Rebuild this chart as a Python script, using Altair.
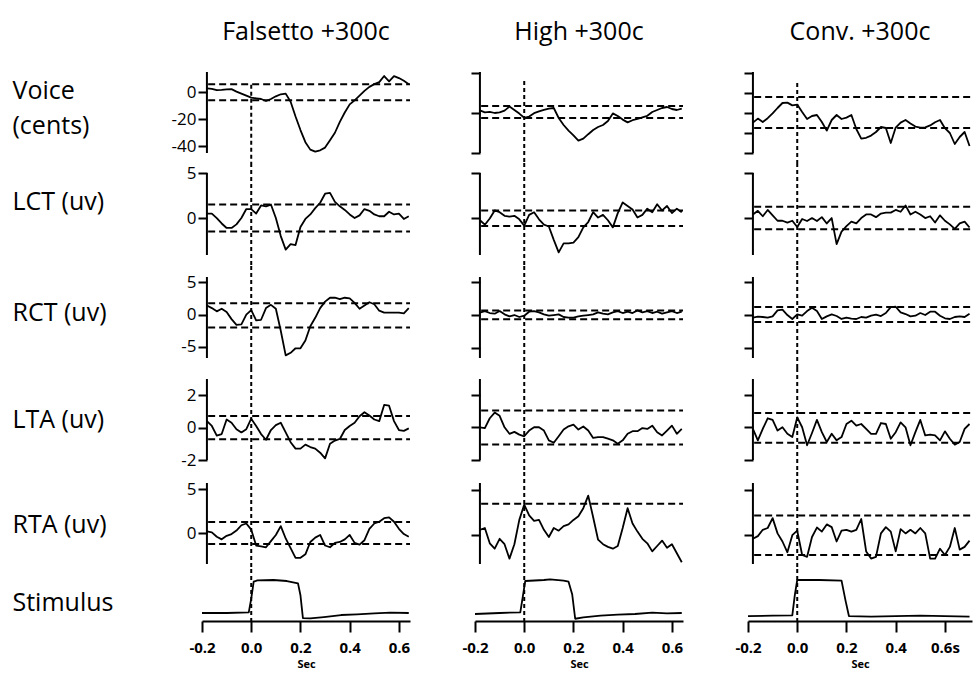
import altair as alt
import pandas as pd

# ---------------- data ----------------
T_A = [round(-0.18 + 0.02 * i, 2) for i in range(42)]   # Falsetto / High
T_C = [round(-0.18 + 0.02 * i, 2) for i in range(45)]   # Conv.

fal_voice = [2.8, 2.5, 1.5, 1.8, 2.2, 2.3, 0.5, -1, -2.5, -4, -4.5, -5, -6.5, -5, -3, -1.5, -1, -7, -18, -28,
             -37, -42.5, -44, -43, -41, -35.5, -30, -22, -15, -9, -6, -2.5, 1, 4, 6, 7.5, 12, 8, 12, 10.5, 8.5, 6]
fal_lct = [0.5, 0.5, 0.0, -0.6, -1.1, -1.1, -0.7, 0.0, 1.0, 1.0, 0.5, 1.4, 1.3, 1.5, 0.0, -2.0, -3.5, -2.9, -3.0, -1.0,
           -0.1, 0.4, 1.1, 1.7, 2.7, 2.8, 1.8, 1.3, 0.9, 0.4, 0.0, 0.3, 1.0, 0.8, 0.4, 0.2, 0.2, 0.7, 0.4, 0.5, -0.1, 0.2]
fal_rct = [1.4, 1.0, 0.5, 0.9, 0.4, -0.7, -1.6, -1.5, 0.0, 0.7, -0.9, -0.8, 1.0, 1.5, 0.9, -2.5, -6.3, -5.9, -5.2, -5.2,
           -4.0, -1.8, -0.5, 1.0, 2.0, 2.6, 2.6, 2.4, 2.6, 2.5, 1.8, 0.9, 1.4, 1.9, 1.6, 0.6, 0.3, 0.3, 0.3, 0.3, 0.2, 1.0]
fal_lta = [0.4, 0.1, -0.5, -0.4, 0.5, 0.3, -0.1, -0.3, -0.1, 0.55, 0.1, -0.4, -0.75, -0.15, 0.15, 0.3, -0.3, -0.9, -1.3, -1.3,
           -1.05, -1.2, -1.3, -1.55, -1.9, -1.0, -0.8, -0.7, -0.15, 0.1, 0.3, 0.7, 0.95, 0.75, 0.5, 0.4, 1.4, 1.35, 0.4, -0.15, -0.2, -0.05]
fal_rta = [0.2, 0.1, -0.4, -0.7, -0.3, -0.1, 0.3, 0.9, 1.1, 0.4, -1.4, -1.5, -1.6, -0.9, -0.2, 0.8, -0.6, -1.7, -2.8, -2.8,
           -2.4, -1.0, -0.5, -0.2, -1.4, -1.6, -1.1, -1.0, -0.7, -0.2, -1.1, -1.3, -0.8, 0.5, 1.1, 1.3, 1.7, 1.8, 1.3, 0.5, -0.1, -0.4]
fal_stim_t = [-0.2, -0.1, -0.01, 0.0, 0.01, 0.025, 0.09, 0.145, 0.19, 0.20, 0.21, 0.24, 0.295, 0.365, 0.43, 0.50, 0.565, 0.64]
fal_stim_v = [0.03, 0.03, 0.05, 0.45, 0.95, 0.99, 1.0, 0.97, 0.9, 0.55, -0.12, -0.13, -0.09, -0.03, -0.01, 0.02, 0.04, 0.03]

high_voice = [1.3, 0.3, 0.6, 0.0, 0.3, 1.2, 3.2, 1.5, -0.3, -2.4, -1.8, -0.1, 0.8, 1.6, 2.2, 2.5, -2.5, -6.0, -8.8, -11.2,
              -13.8, -12.8, -10.6, -8.5, -7.0, -6.0, -4.0, -0.2, -1.5, -3.3, -4.7, -3.6, -3.0, -2.2, -1.4, 0.5, 1.5, 2.5, 3.0, 2.0, 1.5, 2.2]
high_lct = [-0.3, -0.8, -0.1, 0.8, 0.6, 0.2, 0.1, 0.2, -0.2, -0.9, 0.3, 0.6, -0.2, -0.8, -1.0, -2.5, -3.9, -2.9, -2.9, -2.8,
            -2.2, -1.1, -0.5, 0.6, 0.0, 0.3, -0.3, -1.1, 0.5, 1.7, 1.3, 0.9, 0.0, 0.3, 1.0, 0.6, 1.5, 0.8, 1.3, 0.5, 1.0, 0.6]
high_rct = [0.35, 0.6, 0.3, 0.2, 0.6, 0.1, -0.2, 0.0, -0.3, -0.1, 0.5, 0.6, 0.4, 0.1, -0.1, 0.0, 0.1, -0.3, -0.4, -0.4,
            -0.2, -0.1, 0.0, 0.1, 0.4, 0.2, 0.1, 0.4, 0.6, 0.3, 0.5, 0.3, 0.7, 0.4, 0.6, 0.3, 0.5, 0.2, 0.4, 0.6, 0.3, 0.5]
high_lta = [0.0, -0.05, 0.55, 0.9, 0.7, 0.0, -0.4, -0.28, -0.45, -0.55, -0.2, 0.0, 0.0, -0.2, -0.8, -0.95, -0.55, -0.14, 0.06, 0.16,
            -0.14, 0.05, -0.2, -0.65, -0.6, -0.6, -0.7, -0.8, -1.0, -0.8, -0.4, -0.24, -0.24, -0.05, -0.1, 0.1, -0.3, -0.5, -0.2, 0.1, -0.4, -0.1]
high_rta = [0.6, 0.8, -0.9, -1.5, -0.4, -1.0, -2.6, -1.0, 1.7, 3.4, 2.2, 1.6, 1.7, 0.6, -0.2, 0.8, 0.5, 1.0, 1.2, 1.7,
            2.1, 3.0, 4.4, 2.0, -0.5, -1.0, -1.3, -1.5, -1.2, 0.8, 3.0, 1.3, 0.4, -0.4, -0.9, -1.8, -1.2, -0.6, -1.4, -1.0, -2.0, -3.0]
high_stim_t = [-0.2, -0.1, -0.016, -0.005, 0.004, 0.08, 0.105, 0.16, 0.18, 0.195, 0.207, 0.24, 0.31, 0.38, 0.45, 0.52, 0.58, 0.64]
high_stim_v = [0.0, 0.03, 0.05, 0.55, 0.97, 1.0, 1.02, 0.98, 0.95, 0.57, -0.14, -0.1, -0.05, -0.02, 0.0, 0.04, 0.02, 0.03]

conv_voice = [-4.8, -2.8, -4.5, -2.6, -0.2, 2.5, 5.0, 5.2, 3.8, 4.2, 0.5, -3.0, -1.5, -1.0, -4.5, -8.8, -3.5, -1.0, -3.0, -2.3,
              -1.0, -8.0, -12.8, -12.4, -11.3, -9.5, -7.0, -7.5, -15.0, -7.3, -4.8, -3.5, -5.2, -6.8, -7.3, -7.2, -6.2, -4.6, -3.5, -7.6,
              -10.0, -15.5, -12.0, -9.5, -16.5]
conv_lct = [0.4, 0.8, 0.2, 0.9, 0.3, -0.3, -0.3, -0.5, -0.3, -1.0, -0.1, -0.33, 0.0, -0.33, 0.1, -0.6, 0.0, -2.9, -1.5, -0.9,
            -0.4, -0.6, 0.0, 0.4, 0.4, 0.1, 0.5, 0.6, 0.6, 0.9, 0.7, 1.4, 0.4, 0.7, 0.4, 0.0, 0.2, -0.5, 0.3, -0.3,
            -0.7, -1.2, -0.6, -0.4, -1.05]
conv_rct = [-0.4, -0.25, -0.3, -0.4, -0.2, 0.7, 0.8, 0.0, -0.6, 0.1, -0.1, 0.6, 1.1, 0.6, -0.6, -0.2, 0.1, -0.15, -0.6, -0.4,
            -0.55, -0.6, -0.3, -0.4, -0.1, 0.05, -0.15, 0.3, 1.2, 1.25, 0.4, 0.15, -0.2, -0.1, 0.3, 0.0, 0.5, 0.5, -0.1, -0.5,
            -0.6, -0.3, -0.2, -0.3, 0.2]
conv_lta = [-0.1, -0.8, -0.1, 0.55, 0.45, -0.2, 0.0, -0.4, -0.6, 0.6, 0.0, -1.1, -0.35, 0.45, -0.3, -0.9, -0.4, -0.8, -0.6, 0.2,
            0.4, 0.1, 0.2, -0.1, -0.4, -0.4, 0.26, 0.2, -0.7, -0.3, 0.3, 0.0, -1.1, -0.3, 0.45, -0.5, -0.45, -0.5, -0.8, -0.25,
            -0.7, -1.06, -0.9, -0.1, 0.2]
conv_rta = [-0.4, -0.1, 0.6, 0.8, 1.9, 0.2, -0.7, -1.9, 0.0, 0.5, -2.2, -2.4, -0.2, 0.85, 0.4, 1.2, 0.9, -0.7, 0.5, 0.6,
            0.4, 0.6, 1.8, -1.8, -2.6, -2.4, 0.2, 0.9, 0.4, -1.8, 0.67, 0.2, 0.6, 0.2, 0.8, 0.2, -2.6, -2.6, -1.5, -2.2,
            -1.3, 0.8, -1.6, -1.3, -0.6]
conv_stim_t = [-0.2, -0.1, -0.02, -0.01, 0.0, 0.09, 0.18, 0.196, 0.21, 0.3, 0.4, 0.5, 0.6, 0.7]
conv_stim_v = [-0.06, -0.05, -0.04, 0.55, 1.0, 1.0, 0.98, 0.4, -0.06, -0.08, -0.06, -0.05, -0.06, -0.08]

COLUMN_TITLES = ["Falsetto +300c", "High +300c", "Conv. +300c"]
ROW_LABELS = [["Voice", "(cents)"], "LCT (uv)", "RCT (uv)", "LTA (uv)", "RTA (uv)", "Stimulus"]
X_TICKS = [-0.2, 0.0, 0.2, 0.4, 0.6]

# per panel: series, axis extent (top, bottom), tick values, dashed levels
PANELS = [
    [  # Falsetto
        dict(t=T_A, v=fal_voice, ax=(15, -45), ticks=[0, -20, -40], lv=[6, -6], vstart=5.5),
        dict(t=T_A, v=fal_lct, ax=(5, -4.1), ticks=[5, 0], lv=[1.5, -1.5]),
        dict(t=T_A, v=fal_rct, ax=(5.8, -6.7), ticks=[5, 0, -5], lv=[1.75, -2.0]),
        dict(t=T_A, v=fal_lta, ax=(3, -2), ticks=[2, 0, -2], lv=[0.72, -0.72]),
        dict(t=T_A, v=fal_rta, ax=(5.7, -3.5), ticks=[5, 0], lv=[1.27, -1.22]),
        dict(t=fal_stim_t, v=fal_stim_v),
    ],
    [  # High
        dict(t=T_A, v=high_voice, ax=(20.5, -20), ticks=[20, 0, -20], lv=[3.5, -2.5], vstart=16),
        dict(t=T_A, v=high_lct, ax=(5, -4.2), ticks=[5, 0], lv=[0.8, -0.95]),
        dict(t=T_A, v=high_rct, ax=(5.75, -6.5), ticks=[5, 0, -5], lv=[0.7, -0.65]),
        dict(t=T_A, v=high_lta, ax=(2.95, -2.0), ticks=[2, 0, -2], lv=[1.02, -1.05]),
        dict(t=T_A, v=high_rta, ax=(5.8, -3.2), ticks=[5, 0], lv=[3.5]),
        dict(t=high_stim_t, v=high_stim_v),
    ],
    [  # Conv.
        dict(t=T_C, v=conv_voice, ax=(20.5, -20), ticks=[20, 10, 0, -10, -20], lv=[8, -7.5], vstart=15),
        dict(t=T_C, v=conv_lct, ax=(5, -4.1), ticks=[5, 0], lv=[1.25, -1.25]),
        dict(t=T_C, v=conv_rct, ax=(5.75, -6.5), ticks=[5, 0, -5], lv=[1.2, -1.06]),
        dict(t=T_C, v=conv_lta, ax=(2.95, -2.0), ticks=[2, 0, -2], lv=[0.87, -0.95]),
        dict(t=T_C, v=conv_rta, ax=(5.8, -3.2), ticks=[5, 0], lv=[2.2, -2.2]),
        dict(t=conv_stim_t, v=conv_stim_v),
    ],
]

# ---------------- layout ----------------
FONT = "Open Sans"
X_DOMAINS = [[-0.2, 0.645], [-0.2, 0.645], [-0.2, 0.71]]
PX_PER_SEC = 246
AXIS_X = -0.18
ROWS_BAND = [(62, 162), (162, 265), (265, 367), (367, 471), (471, 568), (568, 620)]
ROWS_AXIS = [(71, 152), (172, 254), (276, 357), (378, 459), (482, 563)]
STIM_ZERO_PX, STIM_ONE_PX = 613, 579
ROW_LABEL_Y = [27, 38, 46, 51, 52, 33]


def ydomain(ri, vt, vb):
    bt, bb = ROWS_BAND[ri]
    pt, pb = ROWS_AXIS[ri]
    k = (pb - pt) / (vt - vb)
    return [vb - (bb - pb) / k, vt + (pt - bt) / k]


def stim_domain():
    bt, bb = ROWS_BAND[5]
    k = STIM_ZERO_PX - STIM_ONE_PX
    return [-(bb - STIM_ZERO_PX) / k, (STIM_ZERO_PX - bt) / k]


NEG_INT = "datum.value < 0 ? '-' + format(-datum.value, 'd') : format(datum.value, 'd')"


def y_axis(ci, ri, ticks, show_ticks=True):
    kw = dict(values=ticks, domain=False, grid=False, ticks=show_ticks, tickSize=9, tickWidth=2,
              tickColor="black", labels=(ci == 0 and show_ticks), labelExpr=NEG_INT, labelFont=FONT,
              labelFontSize=17, labelColor="black", labelPadding=2, labelFlush=False,
              labelOverlap=False, offset=-5)
    if ci == 0:
        kw.update(title=ROW_LABELS[ri], titleAngle=0, titleAlign="left", titleBaseline="middle",
                  titleX=-195, titleY=ROW_LABEL_Y[ri], titleFont=FONT, titleFontSize=25,
                  titleFontWeight="normal", titleColor="black", titleLineHeight=35)
    else:
        kw.update(title=None)
    return alt.Axis(**kw)


def x_axis(ci):
    expr = "datum.value < 0 ? '-' + format(-datum.value, '.1f') : format(datum.value, '.1f')"
    if ci == 2:
        expr += " + (datum.value > 0.5 ? 's' : '')"
    return alt.Axis(values=X_TICKS, labelExpr=expr, grid=False, domain=True, domainColor="black",
                    domainWidth=2, tickColor="black", tickWidth=2, tickSize=11, labelFont=FONT,
                    labelFontSize=15, labelFontWeight="bold", labelColor="black", labelPadding=8,
                    labelFlush=False, labelOverlap=False, title="Sec", titleFont=FONT,
                    titleFontSize=11, titleFontWeight="bold", titleColor="black", titlePadding=3)


def panel(ci, ri):
    p = PANELS[ci][ri]
    xd = X_DOMAINS[ci]
    w = round((xd[1] - xd[0]) * PX_PER_SEC)
    bt, bb = ROWS_BAND[ri]
    h = bb - bt
    xs = alt.Scale(domain=xd, nice=False, zero=False)
    is_stim = ri == 5
    yd = stim_domain() if is_stim else ydomain(ri, *p["ax"])
    ys = alt.Scale(domain=yd, nice=False, zero=False)
    xax = x_axis(ci) if is_stim else None
    yax = y_axis(ci, ri, [] if is_stim else p["ticks"], show_ticks=not is_stim)

    def X(field):
        return alt.X(field, type="quantitative", scale=xs, axis=xax)

    def Y(field):
        return alt.Y(field, type="quantitative", scale=ys, axis=yax)

    layers = []
    # vertical dashed line at stimulus onset
    if ri == 0:
        vdf = pd.DataFrame({"x": [0.0], "y0": [p["vstart"]], "y1": [yd[0]]})
        layers.append(alt.Chart(vdf).mark_rule(color="black", strokeWidth=2, strokeDash=[4, 3]).encode(
            x=X("x"), y=Y("y0"), y2="y1"))
    else:
        vdf = pd.DataFrame({"x": [0.0]})
        layers.append(alt.Chart(vdf).mark_rule(color="black", strokeWidth=2, strokeDash=[4, 3]).encode(
            x=X("x")))
    if not is_stim:
        # y axis line
        adf = pd.DataFrame({"x": [AXIS_X], "top": [p["ax"][0]], "bot": [p["ax"][1]]})
        layers.append(alt.Chart(adf).mark_rule(color="black", strokeWidth=2).encode(
            x=X("x"), y=Y("top"), y2="bot"))
        # dashed threshold lines
        ddf = pd.DataFrame({"x0": [AXIS_X + 0.005] * len(p["lv"]), "x1": [xd[1]] * len(p["lv"]),
                            "lvl": p["lv"]})
        layers.append(alt.Chart(ddf).mark_rule(color="black", strokeWidth=2, strokeDash=[7, 4]).encode(
            x=X("x0"), x2="x1", y=Y("lvl")))
    df = pd.DataFrame({"t": p["t"], "v": p["v"]})
    layers.append(alt.Chart(df).mark_line(color="black", strokeWidth=1.8, strokeJoin="round").encode(
        x=X("t"), y=Y("v")))
    ch = alt.layer(*layers).properties(width=w, height=h)
    if ri == 0:
        ch = ch.properties(title=alt.TitleParams(COLUMN_TITLES[ci], font=FONT, fontSize=25,
                                                 fontWeight="normal", color="black", anchor="middle",
                                                 frame="group", offset=18))
    return ch


cells = [panel(ci, ri) for ri in range(6) for ci in range(3)]

chart = alt.concat(*cells, columns=3, spacing={"row": 0, "column": 65}, bounds="flush",
                   align="each").properties(
    padding={"left": 12, "top": 20, "right": 0, "bottom": 2},
    background="white",
).configure_view(strokeWidth=0)

chart.save("out.html", embed_options={"renderer": "svg", "actions": False})
